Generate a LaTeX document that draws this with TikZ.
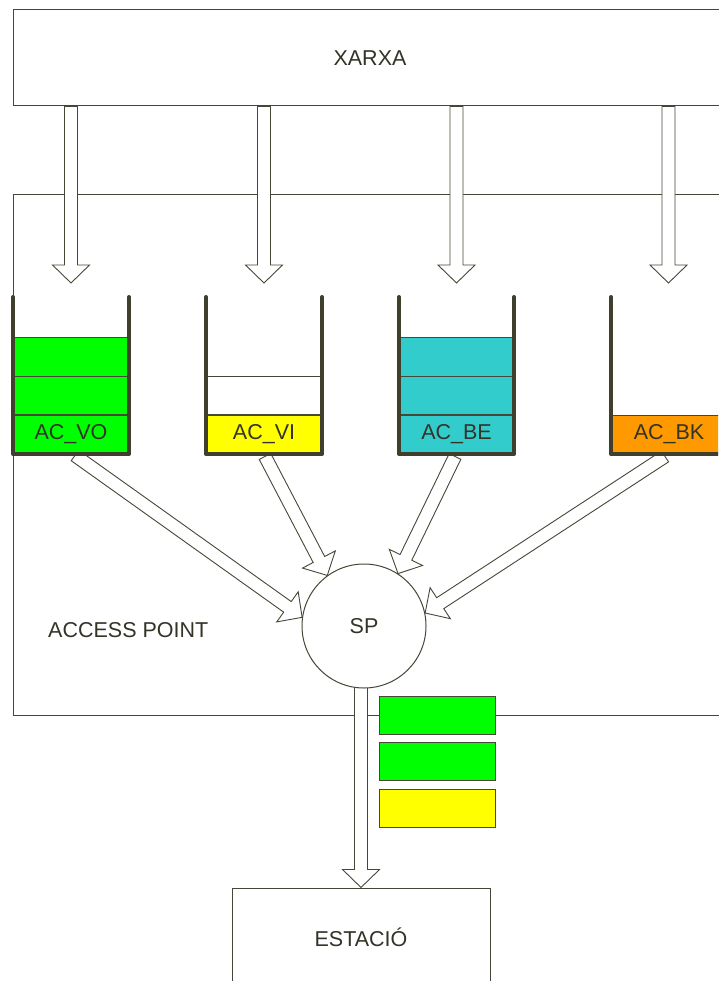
\documentclass[tikz,border=0pt]{standalone}
\usepackage{fontspec}
\setmainfont{Liberation Sans}
\usetikzlibrary{calc}

\definecolor{ink}{RGB}{51,51,40}
\definecolor{edge}{RGB}{72,70,55}
\definecolor{wall}{RGB}{64,62,45}
\definecolor{qgreen}{RGB}{0,255,0}
\definecolor{qyellow}{RGB}{255,255,0}
\definecolor{qcyan}{RGB}{51,204,204}
\definecolor{qorange}{RGB}{255,153,0}

\pgfdeclarelayer{back}
\pgfsetlayers{back,main}

\tikzset{
  box/.style={draw=edge, line width=1pt, fill=white, inner sep=0pt},
  lbl/.style={text=ink, font=\fontsize{21.5}{24}\selectfont, inner sep=0pt},
  cell/.style={draw=edge, line width=1.2pt, minimum width=116pt, minimum height=38.7pt, lbl},
  wallline/.style={draw=wall, line width=4pt, line cap=round, line join=round},
  fatarrow/.style={draw=edge, line width=0.9pt, fill=white, line join=miter},
  packet/.style={draw=edge, line width=1pt, minimum width=116pt, minimum height=38pt, inner sep=0pt},
}

% block arrow from tail #1 to tip #2: shaft 13pt wide, head 37pt wide and 18pt long
\newcommand\blockarrow[2]{%
  \coordinate (ba-t) at (#1);
  \coordinate (ba-h) at (#2);
  \coordinate (ba-b) at ($(ba-h)!18pt!(ba-t)$);
  \draw[fatarrow]
    ($(ba-t)!6.5pt!90:(ba-h)$) -- ($(ba-b)!6.5pt!90:(ba-h)$) --
    ($(ba-b)!18.5pt!90:(ba-h)$) -- (ba-h) --
    ($(ba-b)!18.5pt!-90:(ba-h)$) -- ($(ba-b)!6.5pt!-90:(ba-h)$) --
    ($(ba-t)!6.5pt!-90:(ba-h)$) -- cycle;
}

\begin{document}
\begin{tikzpicture}[x=1pt, y=-1pt]
\useasboundingbox (0,0) rectangle (718,981);
\clip (0,0) rectangle (718,981);

% ---- queues of the four access categories ----
% AC_VO
\node[cell, fill=qgreen] (vo3) at (71,357) {};
\node[cell, fill=qgreen] (vo2) at (71,395.5) {};
\node[cell, fill=qgreen] (vo)  at (71,434.5) {AC\_VO};
\draw[wallline] (13,297) -- (13,454) -- (129,454) -- (129,297);
% AC_VI
\node[cell] (vi2) at (264,395.5) {};
\node[cell, fill=qyellow] (vi) at (264,434.5) {AC\_VI};
\draw[wallline] (206,297) -- (206,454) -- (322,454) -- (322,297);
% AC_BE
\node[cell, fill=qcyan, minimum width=115pt] (be3) at (456.5,357) {};
\node[cell, fill=qcyan, minimum width=115pt] (be2) at (456.5,395.5) {};
\node[cell, fill=qcyan, minimum width=115pt] (be)  at (456.5,434.5) {AC\_BE};
\draw[wallline] (399,297) -- (399,454) -- (514,454) -- (514,297);
% AC_BK
\node[cell, fill=qorange] (bk) at (669,434.5) {AC\_BK};
\draw[wallline] (611,297) -- (611,454) -- (735,454);

% ---- scheduler ----
\node[draw=edge, line width=1pt, circle, fill=white, minimum size=124pt, lbl] (sp) at (364,626) {SP};

% ---- frames leaving towards the station ----
\node[packet, fill=qgreen]  (p1) at (437,715) {};
\node[packet, fill=qgreen]  (p2) at (437,761) {};
\node[packet, fill=qyellow] (p3) at (437,808) {};

\begin{pgfonlayer}{back}
  % frames
  \node[box, minimum width=720pt, minimum height=520pt] (ap) at (373,455) {};
  \node[lbl, anchor=west] (aplabel) at (48,630) {ACCESS POINT};
  \node[box, lbl, minimum width=714pt, minimum height=96pt] (xarxa) at (370,58) {XARXA};
  \node[box, lbl, minimum width=258pt, minimum height=98pt] (est) at (361,937) {ESTACIÓ};

  % arrival from the network
  \coordinate (d1) at (71,283);
  \coordinate (d2) at (264,283);
  \coordinate (d3) at (456.5,283);
  \coordinate (d4) at (668.5,283);
  \blockarrow{d1 |- xarxa.south}{d1}
  \blockarrow{d2 |- xarxa.south}{d2}
  \blockarrow{d3 |- xarxa.south}{d3}
  \blockarrow{d4 |- xarxa.south}{d4}

  % queues into the scheduler
  \blockarrow{$(vo.south)+(4,1)$}{sp.172}
  \blockarrow{$(vi.south)+(1,2)$}{sp.126}
  \blockarrow{$(be.south)+(-1.5,2)$}{sp.57}
  \blockarrow{$(bk.south)+(-4,2)$}{sp.12}

  % scheduler to the station
  \blockarrow{est.north |- sp.center}{est.north}
\end{pgfonlayer}
\end{tikzpicture}
\end{document}
